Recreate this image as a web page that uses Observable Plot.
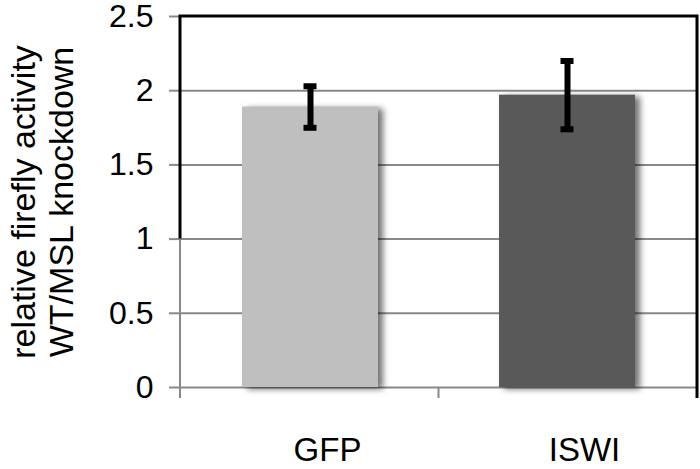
<!DOCTYPE html>
<html>
<head>
<meta charset="utf-8">
<script src="https://cdn.jsdelivr.net/npm/d3@7"></script>
<script src="https://cdn.jsdelivr.net/npm/@observablehq/plot@0.6"></script>
<style>
  html, body { margin: 0; padding: 0; background: #fff; }
</style>
</head>
<body>
<div id="chart"></div>
<script>
const categories = ["GFP", "ISWI"];
const values = [1.89, 1.97];
const errLow = [1.75, 1.74];
const errHigh = [2.03, 2.20];
const barColors = ["#bfbfbf", "#595959"];
const yTicks = [0, 0.5, 1, 1.5, 2, 2.5];
const yTitle = ["relative firefly activity", "WT/MSL knockdown"];

const data = categories.map((c, i) => ({cat: c, value: values[i], lo: errLow[i], hi: errHigh[i]}));

// frame lines drawn from the plot's own scales
const frameMark = (index, scales, vals, dims) => {
  const x = scales.x, y = scales.y;
  const bw = typeof x.bandwidth === "function" ? x.bandwidth() : x.bandwidth;
  const x0 = dims.marginLeft, x1 = dims.width - dims.marginRight;
  const yTop = y(yTicks[yTicks.length - 1]), yOne = y(1), yZero = y(0);
  const g = d3.create("svg:g");
  g.append("line").attr("x1", x0).attr("x2", x0).attr("y1", yZero + 11).attr("y2", yOne)
    .attr("stroke", "#888").attr("stroke-width", 2);
  const centers = categories.map(c => x(c) + bw / 2);
  const mid = (centers[0] + centers[1]) / 2;
  g.append("line").attr("x1", mid).attr("x2", mid).attr("y1", yZero).attr("y2", yZero + 11)
    .attr("stroke", "#888").attr("stroke-width", 2);
  g.append("path")
    .attr("d", `M${x0},${yOne}V${yTop}H${x1 - 1}V${yZero + 11}`)
    .attr("fill", "none").attr("stroke", "#000").attr("stroke-width", 3);
  return g.node();
};

const chart = Plot.plot({
  width: 700,
  height: 469,
  marginLeft: 180,
  marginRight: 2,
  marginTop: 16,
  marginBottom: 82,
  style: {fontFamily: "'Liberation Sans', Arial, Helvetica, sans-serif", background: "#fff", color: "#000"},
  x: {domain: categories, paddingInner: 0.47, paddingOuter: 0.24},
  y: {domain: [0, 2.5]},
  color: {domain: categories, range: barColors},
  marks: [
    Plot.gridY({ticks: yTicks.slice(0, -1), stroke: "#888", strokeOpacity: 1, strokeWidth: 2}),
    Plot.axisY({ticks: yTicks, tickSize: 11, tickPadding: 16, fontSize: 32,
                tickFormat: d => String(d), stroke: "#888", strokeWidth: 2, label: null}),
    Plot.axisX({tickSize: 0, tickPadding: 50, fontSize: 33, dx: 17, label: null}),
    Plot.barY(data, {x: "cat", y: "value", fill: "cat"}),
    frameMark,
    Plot.ruleX(data, {x: "cat", y1: "lo", y2: "hi", stroke: "#000", strokeWidth: 6}),
    Plot.tickY(data, {x: "cat", y: "hi", stroke: "#000", strokeWidth: 6, insetLeft: 61.5, insetRight: 61.5}),
    Plot.tickY(data, {x: "cat", y: "lo", stroke: "#000", strokeWidth: 6, insetLeft: 61.5, insetRight: 61.5}),
    Plot.text([yTitle.join("\n")], {frameAnchor: "left", dx: -139, rotate: -90, fontSize: 34,
                lineHeight: 1.12, textAnchor: "middle", lineAnchor: "middle", fill: "#000"})
  ]
});

d3.select(chart).selectAll("g[aria-label='bar'] rect")
  .style("filter", "drop-shadow(5px 2px 3px rgba(0,0,0,0.55))");

document.getElementById("chart").appendChild(chart);
</script>
</body>
</html>
